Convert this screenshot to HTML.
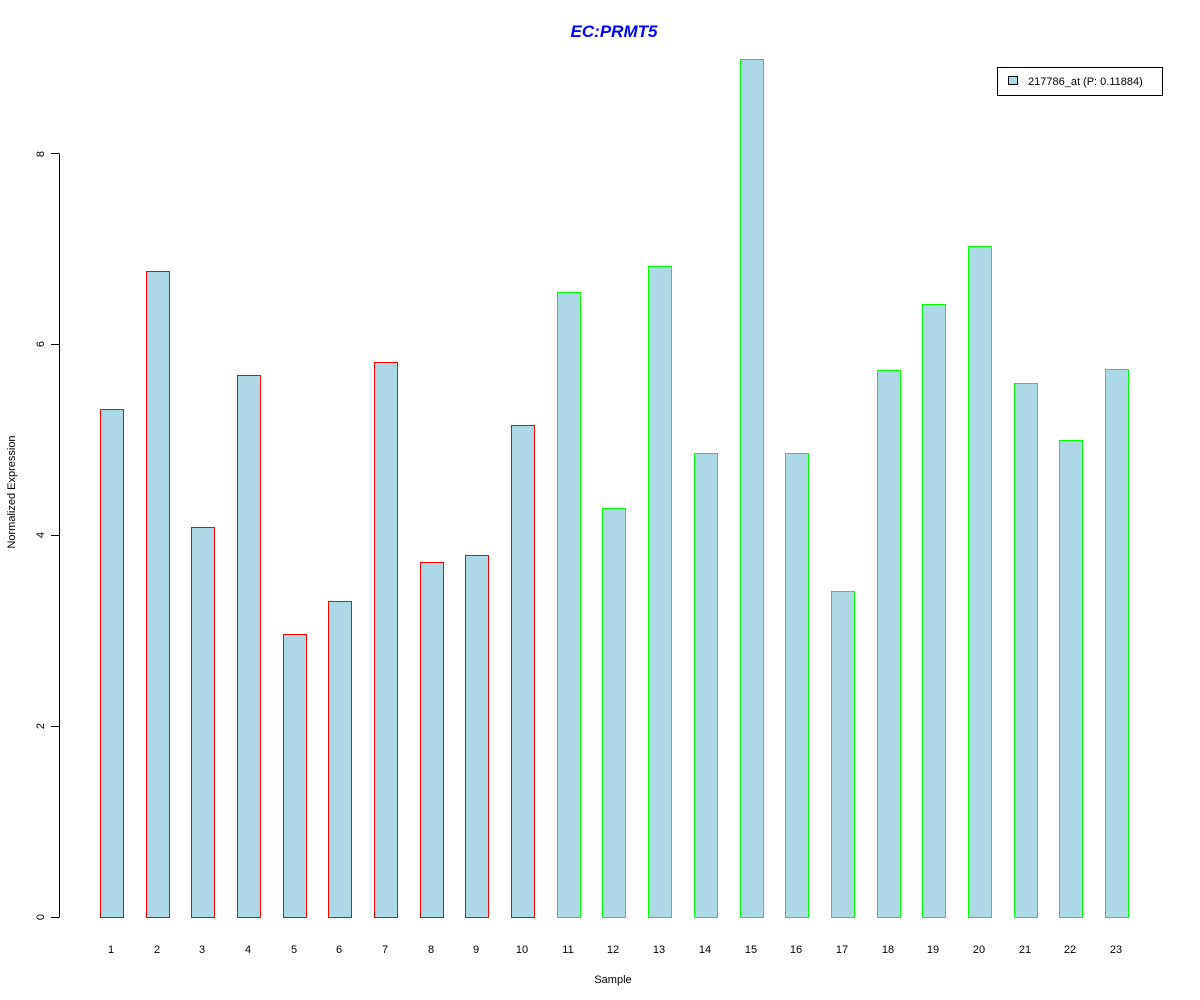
<!DOCTYPE html>
<html><head><style>body{margin:0;background:#fff}svg{display:block}</style></head>
<body>
<svg width="1200" height="1000" xmlns="http://www.w3.org/2000/svg" font-family="Liberation Sans, sans-serif">
<rect width="1200" height="1000" fill="#fff"/>
<text x="614" y="37" text-anchor="middle" font-size="17" font-weight="bold" font-style="italic" fill="#0000ff">EC:PRMT5</text>
<g stroke="#000" stroke-width="1">
<line x1="59.5" y1="154" x2="59.5" y2="917"/>
<line x1="51" y1="917.5" x2="59.5" y2="917.5"/>
<line x1="51" y1="726.5" x2="59.5" y2="726.5"/>
<line x1="51" y1="535.5" x2="59.5" y2="535.5"/>
<line x1="51" y1="344.5" x2="59.5" y2="344.5"/>
<line x1="51" y1="153.5" x2="59.5" y2="153.5"/>
</g>
<g font-size="11" text-anchor="middle" fill="#000">
<text transform="translate(44,917) rotate(-90)">0</text>
<text transform="translate(44,726) rotate(-90)">2</text>
<text transform="translate(44,535) rotate(-90)">4</text>
<text transform="translate(44,344) rotate(-90)">6</text>
<text transform="translate(44,154) rotate(-90)">8</text>
<text transform="translate(15,492) rotate(-90)">Normalized Expression</text>
<text x="613" y="983">Sample</text>
</g>
<g fill="#add8e6" stroke="#ff0000" stroke-width="1">
<rect x="100.5" y="409.5" width="23" height="508"/>
<rect x="146.5" y="271.5" width="23" height="646"/>
<rect x="191.5" y="527.5" width="23" height="390"/>
<rect x="237.5" y="375.5" width="23" height="542"/>
<rect x="283.5" y="634.5" width="23" height="283"/>
<rect x="328.5" y="601.5" width="23" height="316"/>
<rect x="374.5" y="362.5" width="23" height="555"/>
<rect x="420.5" y="562.5" width="23" height="355"/>
<rect x="465.5" y="555.5" width="23" height="362"/>
<rect x="511.5" y="425.5" width="23" height="492"/>
</g>
<g fill="#add8e6" stroke="#00ff00" stroke-width="1">
<rect x="557.5" y="292.5" width="23" height="625"/>
<rect x="602.5" y="508.5" width="23" height="409"/>
<rect x="648.5" y="266.5" width="23" height="651"/>
<rect x="694.5" y="453.5" width="23" height="464"/>
<rect x="740.5" y="59.5" width="23" height="858"/>
<rect x="785.5" y="453.5" width="23" height="464"/>
<rect x="831.5" y="591.5" width="23" height="326"/>
<rect x="877.5" y="370.5" width="23" height="547"/>
<rect x="922.5" y="304.5" width="23" height="613"/>
<rect x="968.5" y="246.5" width="23" height="671"/>
<rect x="1014.5" y="383.5" width="23" height="534"/>
<rect x="1059.5" y="440.5" width="23" height="477"/>
<rect x="1105.5" y="369.5" width="23" height="548"/>
</g>
<g font-size="11" text-anchor="middle">
<text x="111" y="953">1</text><text x="157" y="953">2</text><text x="202" y="953">3</text><text x="248" y="953">4</text><text x="294" y="953">5</text><text x="339" y="953">6</text><text x="385" y="953">7</text><text x="431" y="953">8</text><text x="476" y="953">9</text><text x="522" y="953">10</text><text x="568" y="953">11</text><text x="613" y="953">12</text><text x="659" y="953">13</text><text x="705" y="953">14</text><text x="751" y="953">15</text><text x="796" y="953">16</text><text x="842" y="953">17</text><text x="888" y="953">18</text><text x="933" y="953">19</text><text x="979" y="953">20</text><text x="1025" y="953">21</text><text x="1070" y="953">22</text><text x="1116" y="953">23</text>
</g>
<rect x="997.5" y="67.5" width="165" height="28" fill="#fff" stroke="#000"/>
<rect x="1008.5" y="76.5" width="9" height="8" fill="#add8e6" stroke="#000"/>
<text x="1028" y="85" font-size="11">217786_at (P: 0.11884)</text>
</svg>
</body></html>
